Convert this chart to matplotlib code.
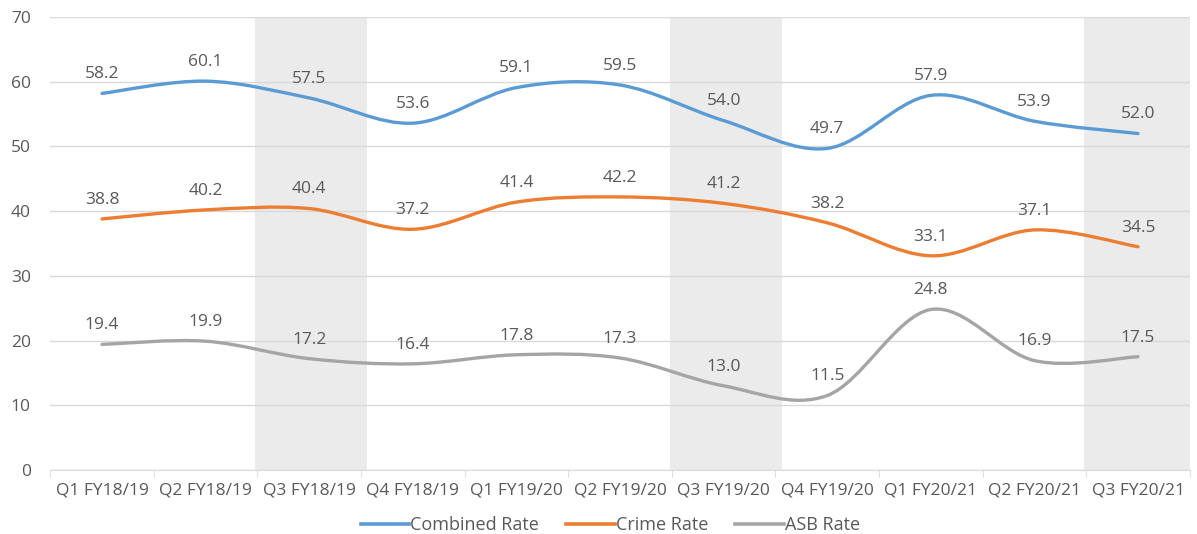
import numpy as np
import matplotlib.pyplot as plt
from matplotlib.path import Path
from matplotlib.patches import PathPatch
from matplotlib.lines import Line2D

plt.rcParams['font.family'] = ['Open Sans', 'DejaVu Sans']

quarters = ["Q1 FY18/19", "Q2 FY18/19", "Q3 FY18/19", "Q4 FY18/19", "Q1 FY19/20",
            "Q2 FY19/20", "Q3 FY19/20", "Q4 FY19/20", "Q1 FY20/21", "Q2 FY20/21", "Q3 FY20/21"]
combined = [58.2, 60.1, 57.5, 53.6, 59.1, 59.5, 54.0, 49.7, 57.9, 53.9, 52.0]
crime = [38.8, 40.2, 40.4, 37.2, 41.4, 42.2, 41.2, 38.2, 33.1, 37.1, 34.5]
asb = [19.4, 19.9, 17.2, 16.4, 17.8, 17.3, 13.0, 11.5, 24.8, 16.9, 17.5]
shaded = [2, 6, 10]

series = [("Combined Rate", combined, "#5B9BD5"),
          ("Crime Rate", crime, "#ED7D31"),
          ("ASB Rate", asb, "#A5A5A5")]

text_col = "#595959"


def smooth_path(x, y, t=1/6):
    # excel-style smoothed line: cubic bezier through the points
    x = np.asarray(x, float)
    y = np.asarray(y, float)
    verts = [(x[0], y[0])]
    codes = [Path.MOVETO]
    n = len(x)
    for i in range(n - 1):
        p0 = i - 1 if i > 0 else i
        p3 = i + 2 if i + 2 < n else i + 1
        c1 = (x[i] + (x[i + 1] - x[p0]) * t, y[i] + (y[i + 1] - y[p0]) * t)
        c2 = (x[i + 1] - (x[p3] - x[i]) * t, y[i + 1] - (y[p3] - y[i]) * t)
        verts += [c1, c2, (x[i + 1], y[i + 1])]
        codes += [Path.CURVE4] * 3
    return Path(verts, codes)


fig = plt.figure(figsize=(11.97, 5.34), dpi=100)
ax = fig.add_axes([0.042, 0.12, 0.952, 0.848])

xs = np.arange(len(quarters))
for s in shaded:
    ax.axvspan(s - 0.52, s + 0.56, color="#EBEBEB", zorder=0, lw=0)

for name, vals, col in series:
    ax.add_patch(PathPatch(smooth_path(xs, vals), facecolor="none", edgecolor=col,
                           lw=2.4, capstyle="round", zorder=3))
    for xi, v in zip(xs, vals):
        ax.annotate(f"{v:.1f}", (xi, v), xytext=(0, 8), textcoords="offset points",
                    ha="center", va="bottom", fontsize=12.5, color=text_col, zorder=4)

ax.set_xlim(-0.5, len(quarters) - 0.5)
ax.set_ylim(0, 70)
ax.set_yticks(range(0, 71, 10))
ax.set_xticks(xs)
ax.set_xticklabels(quarters)
ax.set_xticks(np.arange(-0.5, len(quarters), 1), minor=True)
ax.yaxis.grid(True, color="#D9D9D9", lw=1)
ax.set_axisbelow(True)
for sp in ["top", "right", "left"]:
    ax.spines[sp].set_visible(False)
ax.spines["bottom"].set_color("#D9D9D9")
ax.tick_params(axis="x", which="major", length=0, pad=9, labelsize=12.5, labelcolor=text_col)
ax.tick_params(axis="x", which="minor", length=5, color="#D9D9D9")
ax.tick_params(axis="y", length=0, pad=14, labelsize=12.5, labelcolor=text_col)

handles = [Line2D([], [], color=c, lw=2.6) for _, _, c in series]
fig.legend(handles, [n for n, _, _ in series], loc="center", ncol=3,
           bbox_to_anchor=(0.51, 0.017), frameon=False, fontsize=13,
           labelcolor=text_col, handlelength=2.7, handletextpad=0.05,
           columnspacing=1.5, borderpad=0)

fig.savefig("out.png", dpi=100)
